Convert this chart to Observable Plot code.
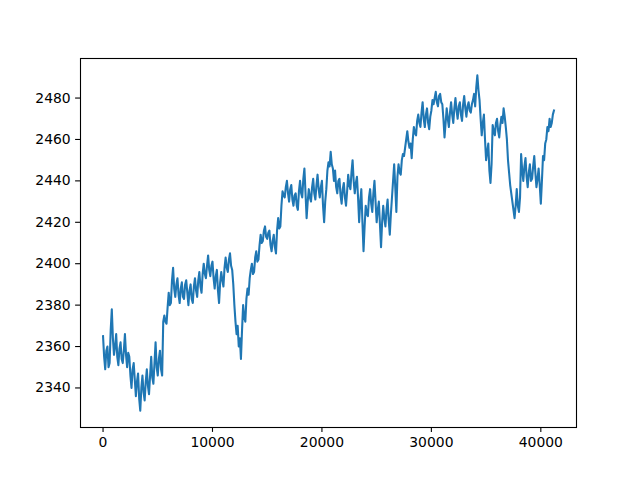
<!DOCTYPE html>
<html>
<head>
<meta charset="utf-8">
<script src="https://cdn.jsdelivr.net/npm/d3@7"></script>
<script src="https://cdn.jsdelivr.net/npm/@observablehq/plot@0.6"></script>
<style>
  html, body { margin: 0; padding: 0; background: #fff; }
  svg { font-family: "DejaVu Sans", sans-serif; }
</style>
</head>
<body>
<div id="chart"></div>
<script>
// Sample step along the x axis (index units)
const step = 100;
// Values (local highs and lows of the noisy series)
const values = [
  2365, 2355, 2349, 2358, 2360, 2350, 2352, 2368, 2378, 2364,
  2356, 2360, 2366, 2355, 2351, 2359, 2362, 2354, 2352, 2358,
  2366, 2356, 2350, 2357, 2355, 2346, 2340, 2349, 2352, 2344,
  2336, 2343, 2347, 2335, 2329, 2340, 2346, 2338, 2334, 2343,
  2349, 2341, 2337, 2346, 2355, 2345, 2342, 2352, 2362, 2350,
  2346, 2354, 2358, 2349, 2346, 2372, 2375, 2372, 2371, 2379,
  2386, 2380, 2381, 2392, 2398, 2388, 2384, 2390, 2393, 2385,
  2381, 2388, 2391, 2384, 2383, 2390, 2392, 2386, 2380, 2387,
  2390, 2383, 2381, 2389, 2393, 2387, 2384, 2392, 2396, 2389,
  2386, 2395, 2400, 2395, 2393, 2399, 2404, 2397, 2394, 2399,
  2401, 2393, 2388, 2394, 2397, 2387, 2381, 2391, 2396, 2392,
  2389, 2398, 2403, 2398, 2396, 2402, 2405, 2399, 2397, 2390,
  2380, 2372, 2366, 2370, 2360, 2364, 2354, 2368, 2380, 2374,
  2372, 2383, 2388, 2385, 2393, 2397, 2400, 2395, 2396, 2403,
  2406, 2401, 2402, 2409, 2414, 2410, 2411, 2416, 2418, 2413,
  2412, 2415, 2416, 2409, 2406, 2411, 2414, 2408, 2405, 2416,
  2422, 2417, 2418, 2428, 2435, 2433, 2432, 2437, 2440, 2434,
  2430, 2436, 2438, 2431, 2428, 2433, 2434, 2428, 2426, 2435,
  2440, 2434, 2432, 2441, 2446, 2434, 2422, 2430, 2436, 2432,
  2430, 2437, 2441, 2434, 2431, 2438, 2443, 2436, 2432, 2437,
  2440, 2428, 2420, 2430, 2436, 2445, 2449, 2447, 2454, 2448,
  2446, 2440, 2445, 2437, 2434, 2440, 2441, 2433, 2429, 2436,
  2439, 2432, 2428, 2435, 2443, 2438, 2436, 2444, 2450, 2440,
  2434, 2439, 2442, 2432, 2420, 2430, 2436, 2420, 2406, 2418,
  2428, 2424, 2423, 2432, 2436, 2429, 2425, 2434, 2440, 2430,
  2420, 2426, 2430, 2419, 2408, 2420, 2428, 2422, 2418, 2426,
  2431, 2421, 2414, 2424, 2432, 2440, 2448, 2437, 2425, 2442,
  2448, 2444, 2443, 2450, 2453, 2452, 2456, 2460, 2464, 2459,
  2456, 2458, 2451, 2460, 2466, 2463, 2462, 2469, 2472, 2468,
  2466, 2473, 2478, 2470, 2466, 2472, 2475, 2468, 2465, 2471,
  2474, 2479, 2477, 2480, 2483, 2478, 2476, 2481, 2482, 2478,
  2477, 2470, 2461, 2468, 2475, 2470, 2466, 2473, 2478, 2472,
  2468, 2475, 2480, 2474, 2470, 2476, 2478, 2472, 2469, 2477,
  2481, 2475, 2471, 2476, 2478, 2474, 2473, 2477, 2479, 2482,
  2476, 2485, 2491, 2484, 2479, 2470, 2462, 2468, 2472, 2460,
  2450, 2454, 2458, 2445, 2439, 2448, 2467, 2464, 2462, 2468,
  2470, 2464, 2461, 2467, 2471, 2468, 2475, 2471, 2466, 2460,
  2450, 2444, 2438, 2434, 2430, 2426, 2422, 2428, 2436, 2428,
  2425, 2432, 2453, 2445, 2440, 2447, 2451, 2442, 2437, 2444,
  2448, 2440, 2441, 2447, 2452, 2444, 2437, 2441, 2446, 2438,
  2429, 2440, 2452, 2450, 2458, 2460, 2466, 2464, 2470, 2466,
  2468, 2472, 2474
];
const xTicks = [0, 10000, 20000, 30000, 40000];
const yTicks = [2340, 2360, 2380, 2400, 2420, 2440, 2460, 2480];

const data = values.map((v, i) => ({x: i * step, y: v}));

const xMax = (values.length - 1) * step;
const xPad = xMax * 0.05;
const yMin = d3.min(values), yMax = d3.max(values);
const yPad = (yMax - yMin) * 0.05;

const chart = Plot.plot({
  width: 640,
  height: 480,
  marginLeft: 80,
  marginRight: 64,
  marginTop: 58,
  marginBottom: 53,
  style: {fontSize: "13.9px", fontFamily: "DejaVu Sans, sans-serif", color: "#000", background: "#fff", overflow: "visible"},
  x: {domain: [-xPad, xMax + xPad]},
  y: {domain: [yMin - yPad, yMax + yPad]},
  marks: [
    Plot.line(data, {x: "x", y: "y", stroke: "#1f77b4", strokeWidth: 2.08, strokeLinejoin: "round", strokeLinecap: "square"}),
    Plot.frame({stroke: "#000", strokeWidth: 1.1}),
    Plot.axisX({ticks: xTicks, tickFormat: d => String(d), tickSize: 4.9, tickPadding: 4.9, label: null, stroke: "#000", strokeWidth: 1.1, strokeOpacity: 1}),
    Plot.axisY({ticks: yTicks, tickFormat: d => String(d), tickSize: 4.9, tickPadding: 4.9, label: null, stroke: "#000", strokeWidth: 1.1, strokeOpacity: 1})
  ]
});
document.getElementById("chart").appendChild(chart);
</script>
</body>
</html>
